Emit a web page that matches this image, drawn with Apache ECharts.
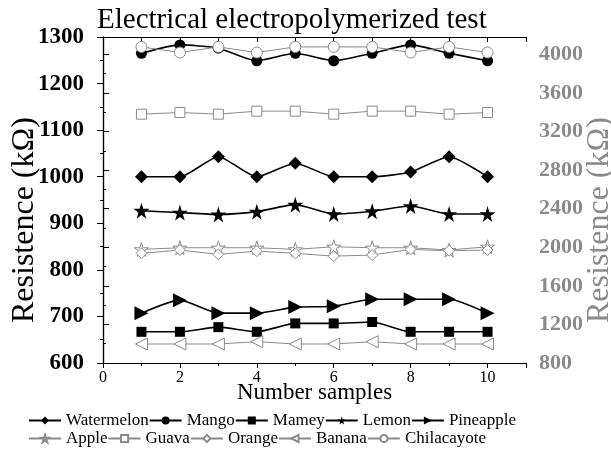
<!DOCTYPE html>
<html>
<head>
<meta charset="utf-8">
<script src="https://cdn.jsdelivr.net/npm/echarts@6/dist/echarts.min.js"></script>
<style>
  html, body { margin: 0; padding: 0; background: #fff; }
  #myChart { width: 611px; height: 450px; }
</style>
</head>
<body>
<div id="myChart"></div>
<script>
// sample number on x axis
const samples = [1, 2, 3, 4, 5, 6, 7, 8, 9, 10]

// left axis (kΩ)
const watermelon = [1000, 1000, 1043, 1000, 1029, 1000, 1000, 1010, 1043, 1000]
const mango = [1265, 1283, 1276, 1249, 1265, 1249, 1265, 1283, 1265, 1249]
const mamey = [667, 667, 677, 667, 685, 685, 688, 667, 667, 667]
const lemon = [927, 923, 919, 925, 940, 920, 926, 937, 920, 920]
const pineapple = [707, 735, 707, 707, 720, 722, 737, 737, 737, 707]

// right axis (kΩ)
const apple = [1978, 1995, 1995, 1995, 1978, 2005, 1995, 1995, 1971, 2005]
const guava = [3380, 3397, 3380, 3411, 3411, 3380, 3411, 3411, 3380, 3397]
const orange = [1937, 1971, 1926, 1960, 1937, 1908, 1919, 1978, 1964, 1971]
const banana = [997, 997, 997, 1021, 997, 997, 1021, 997, 997, 997]
const chilacayote = [4077, 4019, 4077, 4019, 4077, 4077, 4077, 4019, 4077, 4019]

const FONT = 'Liberation Serif'
const GRAY = '#8a8a8a'
const STAR = 'path://M50,0 L61,35 L98,35 L68,57 L79,91 L50,70 L21,91 L32,57 L2,35 L39,35 Z'

function pairs (ys) {
  return samples.map((x, i) => [x, ys[i]])
}

function plain (v) {
  return String(v)
}

function blackSeries (name, data, symbol, size, rotate) {
  return {
    name: name,
    type: 'line',
    yAxisIndex: 0,
    smooth: 0.2,
    symbol: symbol,
    symbolSize: size,
    symbolRotate: rotate || 0,
    lineStyle: { color: '#000', width: 1.6 },
    itemStyle: { color: '#000', borderWidth: 0 },
    data: pairs(data)
  }
}

function graySeries (name, data, symbol, size, rotate) {
  return {
    name: name,
    type: 'line',
    yAxisIndex: 1,
    symbol: symbol,
    symbolSize: size,
    symbolRotate: rotate || 0,
    lineStyle: { color: GRAY, width: 1 },
    itemStyle: { color: '#fff', borderColor: GRAY, borderWidth: 1 },
    data: pairs(data)
  }
}

const axisLine = { show: true, lineStyle: { color: '#000', width: 1.2 } }
const legendText = { fontFamily: FONT, fontSize: 17, color: '#000' }

let myChart = echarts.init(document.getElementById('myChart'))

let options = {
  animation: false,
  textStyle: { fontFamily: FONT },
  title: {
    text: 'Electrical electropolymerized test',
    left: 97,
    top: 6,
    padding: 0,
    textStyle: { fontFamily: FONT, fontSize: 29, fontWeight: 'normal', color: '#000' }
  },
  legend: [
    {
      data: ['Watermelon', 'Mango', 'Mamey', 'Lemon', 'Pineapple'],
      left: 28,
      top: 412,
      padding: 0,
      itemWidth: 32,
      itemHeight: 10,
      itemGap: 0,
      textStyle: legendText
    },
    {
      data: ['Apple', 'Guava', 'Orange', 'Banana', 'Chilacayote'],
      left: 28,
      top: 430,
      padding: 0,
      itemWidth: 32,
      itemHeight: 9,
      itemGap: 0,
      textStyle: legendText
    }
  ],
  grid: { left: 103, right: 85, top: 37, bottom: 87, outerBoundsMode: 'none' },
  xAxis: [
    {
      type: 'value',
      min: 0,
      max: 11,
      interval: 2,
      name: 'Number samples',
      nameLocation: 'middle',
      nameGap: 18,
      nameMoveOverlap: false,
      nameTextStyle: { fontFamily: FONT, fontSize: 23, color: '#000' },
      axisLine: axisLine,
      axisTick: { length: 5, lineStyle: { color: '#000' } },
      minorTick: { show: true, splitNumber: 2, length: 3, lineStyle: { color: '#000' } },
      axisLabel: { showMaxLabel: false, margin: 7, fontFamily: FONT, fontSize: 16, color: '#000' },
      splitLine: { show: false }
    },
    {
      type: 'value',
      position: 'top',
      min: 0,
      max: 11,
      interval: 1,
      axisLine: axisLine,
      axisTick: { inside: true, length: 5, lineStyle: { color: '#000' } },
      axisLabel: { show: false },
      splitLine: { show: false }
    }
  ],
  yAxis: [
    {
      type: 'value',
      min: 600,
      max: 1300,
      interval: 100,
      name: 'Resistence (kΩ)',
      nameLocation: 'middle',
      nameGap: 62,
      nameMoveOverlap: false,
      nameTextStyle: { fontFamily: FONT, fontSize: 32, color: '#000', padding: [0, 40, 0, 0] },
      axisLine: axisLine,
      axisTick: { length: 6, lineStyle: { color: '#000' } },
      minorTick: { show: true, splitNumber: 2, length: 3, lineStyle: { color: '#000' } },
      axisLabel: { formatter: plain, margin: 19, fontFamily: FONT, fontSize: 23, fontWeight: 'bold', color: '#000' },
      splitLine: { show: false }
    },
    {
      type: 'value',
      position: 'right',
      min: 800,
      max: 4180,
      interval: 400,
      name: 'Resistence (kΩ)',
      nameLocation: 'middle',
      nameGap: 58,
      nameMoveOverlap: false,
      nameTextStyle: { fontFamily: FONT, fontSize: 32, color: GRAY, padding: [0, 40, 0, 0] },
      axisLine: axisLine,
      axisTick: { length: 6, lineStyle: { color: '#000' } },
      minorTick: { show: true, splitNumber: 2, length: 3, lineStyle: { color: '#000' } },
      axisLabel: { formatter: plain, showMaxLabel: false, margin: 13, fontFamily: FONT, fontSize: 22, fontWeight: 'bold', color: GRAY },
      splitLine: { show: false }
    }
  ],
  series: [
    blackSeries('Watermelon', watermelon, 'diamond', 13),
    blackSeries('Mango', mango, 'circle', 11),
    blackSeries('Mamey', mamey, 'rect', 10),
    blackSeries('Lemon', lemon, STAR, 16),
    blackSeries('Pineapple', pineapple, 'triangle', 14, -90),
    graySeries('Apple', apple, STAR, 14),
    graySeries('Guava', guava, 'rect', 10),
    graySeries('Orange', orange, 'diamond', 11),
    graySeries('Banana', banana, 'triangle', 12, 90),
    graySeries('Chilacayote', chilacayote, 'circle', 11)
  ]
}

myChart.setOption(options)
</script>
</body>
</html>
